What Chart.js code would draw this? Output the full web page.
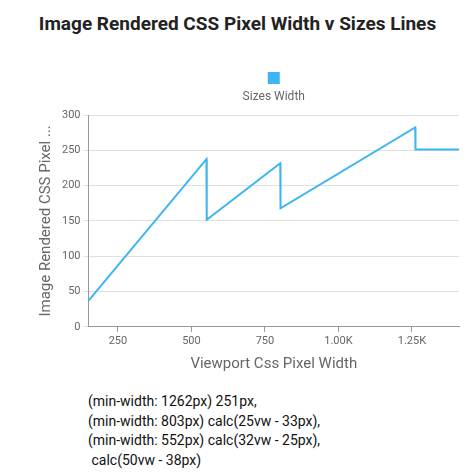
<!DOCTYPE html>
<html>
<head>
<meta charset="utf-8">
<script src="https://cdn.jsdelivr.net/npm/chart.js@4"></script>
<style>
  body { margin: 0; width: 475px; height: 475px; font-family: Roboto, sans-serif; background: #fff; position: relative; }
  h1 { position: absolute; top: 12px; left: 0; width: 475px; margin: 0; text-align: center; font-size: 19px; font-weight: bold; color: #222; }
  #wrap { position: absolute; top: 60px; left: 0; width: 475px; height: 317px; }
  #sizes { position: absolute; top: 392px; left: 88px; font-size: 14px; line-height: 19.5px; color: #111; }
</style>
</head>
<body>
<h1>Image Rendered CSS Pixel Width v Sizes Lines</h1>
<div id="wrap"><canvas id="chart"></canvas></div>
<div id="sizes">(min-width: 1262px) 251px,<br>(min-width: 803px) calc(25vw - 33px),<br>(min-width: 552px) calc(32vw - 25px),<br>&nbsp;calc(50vw - 38px)</div>
<script>
const viewport = [150, 551, 552, 802, 803, 1261, 1262, 1410];
const widths = [37, 237.5, 151.6, 231.6, 167.8, 282.3, 251, 251];
const yTicks = [0, 50, 100, 150, 200, 250, 300];

const lineColor = "#3db5f2";

// legend drawn as a square above the label, like the reference
const topLegend = {
    id: "topLegend",
    afterDraw(chart) {
        const ctx = chart.ctx;
        const cx = (chart.chartArea.left + chart.chartArea.right) / 2;
        ctx.save();
        ctx.fillStyle = lineColor;
        ctx.fillRect(cx - 6, 12, 12, 12);
        ctx.fillStyle = "#666";
        ctx.font = "12px Roboto";
        ctx.textAlign = "center";
        ctx.textBaseline = "middle";
        ctx.fillText("Sizes Width", cx, 37);
        ctx.restore();
    }
};

new Chart(document.getElementById("chart"), {
    type: "line",
    data: {
        datasets: [{
            label: "Sizes Width",
            data: viewport.map((x, i) => ({ x, y: widths[i] })),
            borderColor: lineColor,
            borderWidth: 2,
            pointRadius: 0,
            tension: 0
        }]
    },
    options: {
        responsive: true,
        maintainAspectRatio: false,
        animation: false,
        layout: { padding: { top: 55, right: 16, left: 33 } },
        plugins: { legend: { display: false }, tooltip: { enabled: false } },
        scales: {
            x: {
                type: "linear",
                min: 150,
                max: 1410,
                afterBuildTicks: axis => { axis.ticks = [250, 500, 750, 1000, 1250].map(v => ({ value: v })); },
                ticks: {
                    color: "#666",
                    font: { family: "Roboto", size: 11 },
                    callback: v => v >= 1000 ? (v / 1000).toFixed(2) + "K" : v
                },
                grid: { drawOnChartArea: false, color: "#999", tickLength: 5 },
                border: { color: "#999" },
                title: { display: true, text: "Viewport Css Pixel Width", color: "#666", font: { family: "Roboto", size: 15 } }
            },
            y: {
                min: 0,
                max: 300,
                afterBuildTicks: axis => { axis.ticks = yTicks.map(v => ({ value: v })); },
                ticks: { color: "#666", font: { family: "Roboto", size: 11 } },
                grid: { color: "#e0e0e0", tickLength: 5 },
                border: { color: "#999" },
                title: { display: true, text: "Image Rendered CSS Pixel ...", color: "#666", font: { family: "Roboto", size: 15 } }
            }
        }
    },
    plugins: [topLegend]
});
</script>
</body>
</html>
